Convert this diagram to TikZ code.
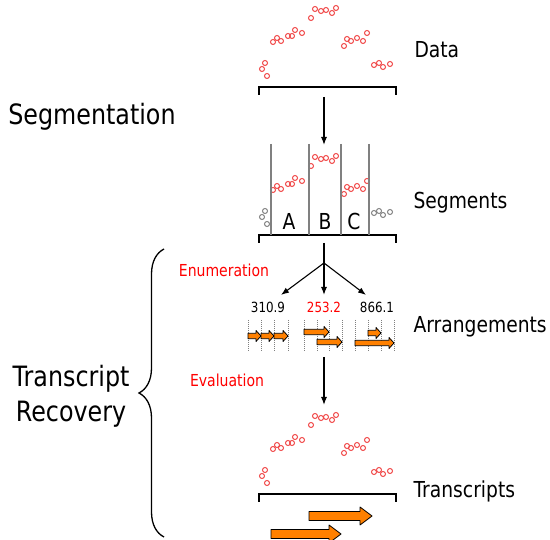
\documentclass[tikz,border=0pt]{standalone}
\usepackage{fontspec}
\setmainfont{DejaVu Sans}[FakeStretch=0.85]
\usepackage{xcolor}
\usetikzlibrary{arrows.meta,calc,decorations.pathreplacing}

\definecolor{ptred}{RGB}{240,70,70}
\definecolor{arrorange}{RGB}{255,128,0}

% block arrow: x1, x2, y, half body, half head, head length
\newcommand{\blockarrow}[6]{%
  \filldraw[barrow] (#1,#3-#4) -- (#2-#6,#3-#4) -- (#2-#6,#3-#5) -- (#2,#3)
    -- (#2-#6,#3+#5) -- (#2-#6,#3+#4) -- (#1,#3+#4) -- cycle;}

\begin{document}
\begin{tikzpicture}[x=1pt,y=-1pt]
  \tikzset{ pt/.style={circle,draw=ptred,line width=1pt,inner sep=0pt,minimum size=5pt},
    gpt/.style={pt,draw=gray},
    lbl/.style={font=\fontsize{22}{26}\selectfont,anchor=base west},
    big/.style={font=\fontsize{28}{35}\selectfont,anchor=base,align=center},
    step lbl/.style={font=\fontsize{16.5}{20}\selectfont,text=red,anchor=base},
    num/.style={font=\fontsize{14}{17}\selectfont,anchor=base},
    seg/.style={font=\fontsize{22}{26}\selectfont,anchor=base},
    brk/.style={line width=1.3pt},
    arr/.style={line width=1.1pt,-{Latex[length=8pt,width=6pt]}},
    barrow/.style={fill=arrorange,draw=black,line width=0.8pt,line join=round},
    dots/.style={gray,dash pattern=on 1pt off 1pt,line width=0.7pt},
  }
  \useasboundingbox (0,0) rectangle (550,540);

  % the data points
  \foreach \x/\y [count=\i] in {315/9,321/11,326/10,332/13,336/8,311/18,295/30,302/33,
      288/36,292/36,273/42,277/38,281/41,347/39,344/46,351/41,357/38,363/41,367/33,
      262/69,265/63,267/76,374/65,379/63,383/67,390/64} {
    \node[pt] (d\i) at (\x,\y) {};
    \node[pt] (t\i) at (\x,\y+407) {};
    \ifnum\i<20
      \node[pt] (s\i) at (\x,\y+148) {};
    \else
      \node[gpt] (s\i) at (\x,\y+148) {};
    \fi
  }

  % brackets
  \coordinate (dataL) at (259,87); \coordinate (dataR) at (396,87);
  \coordinate (segL) at (259,235); \coordinate (segR) at (396,235);
  \coordinate (trL) at (259,494); \coordinate (trR) at (396,494);
  \draw[brk] ($(dataL)+(0,8)$) -- (dataL) -- (dataR) -- ($(dataR)+(0,8)$);
  \draw[brk] ($(segL)+(0,8)$) -- (segL) -- (segR) -- ($(segR)+(0,8)$);
  \draw[brk] ($(trL)+(0,8)$) -- (trL) -- (trR) -- ($(trR)+(0,8)$);

  % segment borders
  \foreach \x in {271,309,341,369}
    \draw[gray,line width=1.2pt] (\x,144) -- (\x,235);
  \node[seg] (A) at (289,230) {A};
  \node[seg] (B) at (325,230) {B};
  \node[seg] (C) at (354,230) {C};

  % the flow
  \coordinate (dataOut) at (324,97);
  \coordinate (segTop) at (324,145);
  \coordinate (segOut) at (324,243);
  \coordinate (split) at (324,263);
  \coordinate (e1) at (281,295);
  \coordinate (e2) at (324,295);
  \coordinate (e3) at (366,295);
  \coordinate (evTop) at (324,357);
  \coordinate (evBot) at (324,405);
  \draw[arr] (dataOut) -- (segTop);
  \draw[line width=1.1pt] (segOut) -- (split);
  \draw[arr] (split) -- (e1);
  \draw[arr] (split) -- (e2);
  \draw[arr] (split) -- (e3);
  \draw[arr] (evTop) -- (evBot);

  % arrangements
  \node[num] (n1) at (268,313) {310.9};
  \node[num,text=red] (n2) at (324,313) {253.2};
  \node[num] (n3) at (377,313) {866.1};
  \foreach \x in {248,261,274,288,304,317,329,342,355,368,381,394}
    \draw[dots] (\x,320) -- (\x,352);
  \blockarrow{248}{261}{336}{2.7}{5.5}{5}
  \blockarrow{261}{274}{336}{2.7}{5.5}{5}
  \blockarrow{274}{288}{336}{2.7}{5.5}{5}
  \blockarrow{304}{329}{332}{2.7}{5.5}{5}
  \blockarrow{317}{342}{342}{2.7}{5.5}{5}
  \blockarrow{368}{381}{333}{2.7}{5.5}{5}
  \blockarrow{355}{394}{343}{2.7}{5.5}{5}

  % transcripts
  \blockarrow{309}{372}{516}{4.5}{9}{12}
  \blockarrow{271}{341}{534}{4.5}{9}{12}

  % labels
  \node[lbl] (data) at (411,58) {Data};
  \node[lbl] (segs) at (410,209) {Segments};
  \node[lbl] (arrs) at (410,333) {Arrangements};
  \node[lbl] (trs) at (410,498) {Transcripts};
  \node[big] (segm) at (92,125) {Segmentation};
  \node[big] (recov) at (71,422) {Transcript\\Recovery};
  \node[step lbl] (enum) at (224,277) {Enumeration};
  \node[step lbl] (eval) at (227,387) {Evaluation};

  \coordinate (brB) at (164,537);
  \coordinate (brT) at (164,249);
  \draw[brk,decorate,decoration={brace,amplitude=25pt}] (brB) -- (brT);
\end{tikzpicture}
\end{document}
